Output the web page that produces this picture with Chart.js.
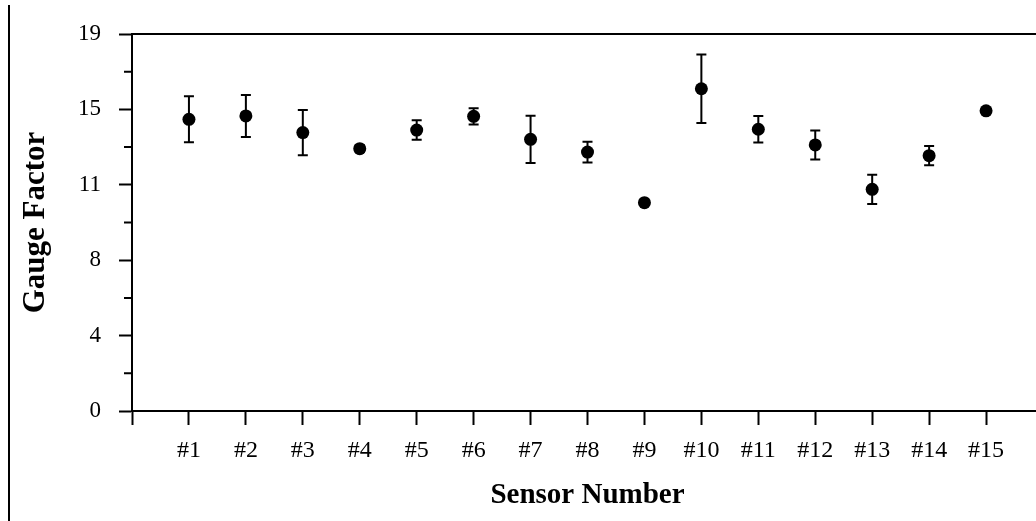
<!DOCTYPE html>
<html><head><meta charset="utf-8">
<script src="https://cdn.jsdelivr.net/npm/chart.js@4.4.1/dist/chart.umd.min.js"></script>
<style>
html,body{margin:0;padding:0;background:#fff;overflow:hidden;width:1036px;height:521px}
#wrap{position:relative;width:1100px;height:521px}
</style>
</head><body><div id="wrap"><canvas id="c" width="1100" height="521"></canvas></div>
<script>
const categories = ['#1','#2','#3','#4','#5','#6','#7','#8','#9','#10','#11','#12','#13','#14','#15'];
const gaugeFactor = [14.70,14.87,14.03,13.22,14.16,14.85,13.69,13.05,10.50,16.24,14.20,13.41,11.17,12.87,15.13];
const gaugeError  = [1.16,1.06,1.14,0.17,0.49,0.41,1.19,0.52,0.00,1.73,0.67,0.73,0.74,0.48,0.10];
const yTickValues = [0,3.8,7.6,11.4,15.2,19];
const yTickLabels = ['0','4','8','11','15','19'];
const yMinorTicks = [1.9,5.7,9.5,13.3,17.1];
const xTickValues = [0,1,2,3,4,5,6,7,8,9,10,11,12,13,14,15];

const FONT = "'Liberation Serif','Times New Roman',serif";

const errorBars = {
  id:'errorBars',
  beforeDatasetsDraw(chart){
    const {ctx, scales:{x,y}} = chart;
    ctx.save();
    ctx.strokeStyle = '#000';
    ctx.lineWidth = 2;
    gaugeFactor.forEach((v,i)=>{
      const e = gaugeError[i];
      if (!e) return;
      const px = x.getPixelForValue(i+1);
      const top = y.getPixelForValue(v+e), bot = y.getPixelForValue(v-e);
      ctx.beginPath();
      ctx.moveTo(px, top); ctx.lineTo(px, bot);
      ctx.moveTo(px-5, top); ctx.lineTo(px+5, top);
      ctx.moveTo(px-5, bot); ctx.lineTo(px+5, bot);
      ctx.stroke();
    });
    ctx.restore();
  }
};

const frame = {
  id:'frame',
  afterDraw(chart){
    const {ctx, chartArea:a, scales:{y}} = chart;
    ctx.save();
    ctx.strokeStyle = '#000';
    ctx.lineWidth = 2;
    ctx.beginPath();
    ctx.moveTo(a.left, a.top); ctx.lineTo(a.right, a.top);
    yMinorTicks.forEach(v=>{
      const py = y.getPixelForValue(v);
      ctx.moveTo(a.left-8, py); ctx.lineTo(a.left, py);
    });
    ctx.stroke();
    ctx.beginPath();
    ctx.moveTo(9, 5); ctx.lineTo(9, 521);
    ctx.stroke();
    ctx.restore();
  }
};

new Chart(document.getElementById('c'), {
  type:'scatter',
  data:{
    datasets:[{
      data: gaugeFactor.map((v,i)=>({x:i+1, y:v})),
      pointRadius:6.5, pointHoverRadius:6.5,
      backgroundColor:'#000', borderColor:'#000', borderWidth:0
    }]
  },
  options:{
    responsive:false, animation:false, devicePixelRatio:1,
    layout:{padding:{top:34, right:57, bottom:0, left:0}},
    plugins:{legend:{display:false}, tooltip:{enabled:false}},
    scales:{
      x:{
        type:'linear', min:0, max:16,
        afterBuildTicks(s){ s.ticks = xTickValues.map(v=>({value:v})); },
        afterFit(s){ s.height = 110; },
        ticks:{
          autoSkip:false, maxRotation:0, padding:11, color:'#000',
          font:{family:FONT, size:24},
          callback:(v)=> v===0 ? '' : categories[v-1]
        },
        grid:{drawOnChartArea:false, drawTicks:true, tickLength:14, tickColor:'#000', tickWidth:2},
        border:{display:true, color:'#000', width:2},
        title:{display:true, text:'Sensor Number', color:'#000',
          font:{family:FONT, size:29, weight:'bold'}, padding:{top:0,bottom:8}}
      },
      y:{
        type:'linear', min:0, max:19,
        afterBuildTicks(s){ s.ticks = yTickValues.map(v=>({value:v})); },
        afterFit(s){ s.width = 132; },
        ticks:{
          padding:18, color:'#000', font:{family:FONT, size:23},
          callback:(v,i)=> yTickLabels[i]
        },
        grid:{drawOnChartArea:false, drawTicks:true, tickLength:13, tickColor:'#000', tickWidth:2},
        border:{display:true, color:'#000', width:2},
        title:{display:true, text:'Gauge Factor', color:'#000',
          font:{family:FONT, size:31, weight:'bold'}, padding:{top:17,bottom:0}}
      }
    }
  },
  plugins:[errorBars, frame]
});
</script>
</body></html>
